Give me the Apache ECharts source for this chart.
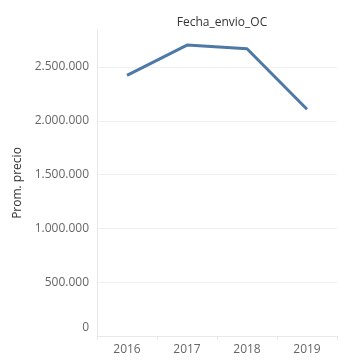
<!DOCTYPE html>
<html><head><meta charset="utf-8">
<script src="https://cdn.jsdelivr.net/npm/echarts@6/dist/echarts.min.js"></script>
<style>html,body{margin:0;padding:0;background:#fff}#c{width:344px;height:364px}</style>
</head><body><div id="c"></div>
<script>
const categories = ['2016', '2017', '2018', '2019'];
const promPrecio = [2423000, 2704000, 2670000, 2107000];
const yTicks = [0, 500000, 1000000, 1500000, 2000000, 2500000];
const titleText = 'Fecha_envio_OC';
const yName = 'Prom. precio';

function fmt(v){ return String(Math.round(v)).replace(/\B(?=(\d{3})+(?!\d))/g, '.'); }

const chart = echarts.init(document.getElementById('c'), null, {renderer:'canvas'});
const FONT = '"Open Sans", sans-serif';
chart.setOption({
  animation:false,
  title:{text:titleText, left:217, top:12, textAlign:'center',
    textStyle:{fontFamily:FONT, fontSize:12, fontWeight:'normal', color:'#333'}},
  grid:{left:97, right:7, top:30, bottom:28, containLabel:false},
  xAxis:{type:'category', data:categories, boundaryGap:true,
    axisLine:{show:true, lineStyle:{color:'#e8e8e8', width:1}},
    axisTick:{show:true, length:4, lineStyle:{color:'#e8e8e8'}},
    axisLabel:{fontFamily:FONT, fontSize:12, color:'#666', margin:8},
    splitLine:{show:false}},
  yAxis:{type:'value', min:0, max:2844000, interval:500000,
    name:yName, nameLocation:'middle', nameGap:70, nameRotate:90,
    nameTextStyle:{fontFamily:FONT, fontSize:12, color:'#333'},
    axisLine:{show:true, lineStyle:{color:'#e8e8e8'}},
    axisTick:{show:false},
    axisLabel:{fontFamily:FONT, fontSize:12, color:'#666', margin:8, showMaxLabel:false,
      formatter:function(v){
        if (v === 0) return '{z|0}';
        return yTicks.indexOf(v) >= 0 ? fmt(v) : '';
      },
      rich:{z:{fontFamily:FONT, fontSize:12, color:'#666', padding:[0,0,16,0]}}},
    splitLine:{show:true, lineStyle:{color:['#f0f0f0','#f0f0f0','#f0f0f0','#f0f0f0','#f0f0f0','#f0f0f0','rgba(0,0,0,0)'], width:1}}},
  series:[{type:'line', data:promPrecio, symbol:'none',
    lineStyle:{color:'#4e79a7', width:3}, itemStyle:{color:'#4e79a7'}}]
});
</script></body></html>
